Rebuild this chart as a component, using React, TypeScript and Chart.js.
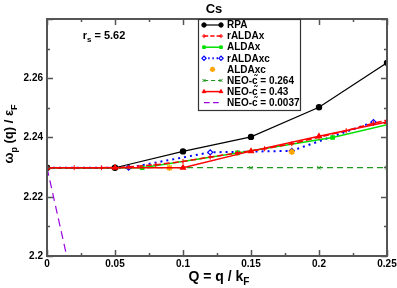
import React, { useEffect, useRef } from "react";
import { Chart, registerables } from "chart.js";
import { drawPoint } from "chart.js/helpers";

Chart.register(...registerables);

const TITLE = "Cs";
const X_TICKS = [0, 0.05, 0.1, 0.15, 0.2, 0.25];
const Y_TICKS = [2.2, 2.22, 2.24, 2.26];

const Q_RPA = [0, 0.05, 0.1, 0.15, 0.2, 0.25];
const V_RPA = [2.2298, 2.2298, 2.2353, 2.2402, 2.2502, 2.2652];

const Q_RALDAX = [0, 0.02, 0.04, 0.06, 0.08, 0.1, 0.12, 0.14, 0.16, 0.18, 0.2, 0.22, 0.24, 0.25];
const V_RALDAX = [2.2298, 2.2298, 2.2298, 2.2301, 2.2308, 2.2319, 2.2334, 2.2348, 2.2362, 2.2379, 2.2401, 2.2423, 2.2448, 2.2458];

const Q_ALDAX = [0, 0.07, 0.14, 0.21, 0.28];
const V_ALDAX = [2.2298, 2.2298, 2.2348, 2.24, 2.2475];

const Q_RALDAXC = [0, 0.06, 0.12, 0.18, 0.24];
const V_RALDAXC = [2.2298, 2.2298, 2.235, 2.2355, 2.2452];

const Q_ALDAXC = [0, 0.09, 0.18];
const V_ALDAXC = [2.2298, 2.2298, 2.2352];

const Q_NEO264 = [0, 0.05, 0.1, 0.15, 0.2, 0.25];
const V_NEO264 = [2.2298, 2.2298, 2.2298, 2.2298, 2.2298, 2.2298];

const Q_NEO43 = [0, 0.05, 0.1, 0.15, 0.2, 0.25];
const V_NEO43 = [2.2298, 2.2298, 2.2298, 2.2354, 2.2404, 2.2452];

const Q_NEO0037 = [0, 0.05];
const V_NEO0037 = [2.2298, 2.127];

const LABELS = [
  "RPA",
  "rALDAx",
  "ALDAx",
  "rALDAxc",
  "ALDAxc",
  "NEO-c\u0303 = 0.264",
  "NEO-c\u0303 = 0.43",
  "NEO-c\u0303 = 0.0037",
];

const pts = (q: number[], v: number[]) => q.map((x, i) => ({ x, y: v[i] }));

const FONT = "'Liberation Sans', Arial, Helvetica, sans-serif";

type Part = [string, boolean];
function drawParts(ctx: CanvasRenderingContext2D, parts: Part[], cx: number, cy: number, size: number) {
  const subSize = Math.round(size * 0.7);
  let total = 0;
  const widths = parts.map(([t, sub]) => {
    ctx.font = `bold ${sub ? subSize : size}px ${FONT}`;
    const w = ctx.measureText(t).width;
    total += w;
    return w;
  });
  let x = cx - total / 2;
  ctx.textAlign = "left";
  ctx.textBaseline = "alphabetic";
  parts.forEach(([t, sub], i) => {
    ctx.font = `bold ${sub ? subSize : size}px ${FONT}`;
    ctx.fillText(t, x, cy + (sub ? size * 0.3 : 0));
    x += widths[i];
  });
}

export default function App() {
  const ref = useRef<HTMLCanvasElement>(null);

  useEffect(() => {
    document.body.style.margin = "0";
    const canvas = ref.current!;

    const datasets: any[] = [
      {
        label: LABELS[0], data: pts(Q_RPA, V_RPA), borderColor: "#000", backgroundColor: "#000",
        borderWidth: 1.2, pointStyle: "circle", pointRadius: 2.6, order: 1,
      },
      {
        label: LABELS[1], data: pts(Q_RALDAX, V_RALDAX), borderColor: "#ff0000", backgroundColor: "#ff0000",
        borderWidth: 1.5, borderDash: [6, 3], pointStyle: "cross", pointRadius: 2.5, pointBorderWidth: 1, order: 3,
      },
      {
        label: LABELS[2], data: pts(Q_ALDAX, V_ALDAX), borderColor: "#00e000", backgroundColor: "#00e000",
        borderWidth: 1.5, pointStyle: "rect", pointRadius: 2.2, order: 4,
      },
      {
        label: LABELS[3], data: pts(Q_RALDAXC, V_RALDAXC), borderColor: "#0000ff", backgroundColor: "#ffffff",
        borderWidth: 2, borderDash: [2, 4], pointStyle: "rectRot", pointRadius: 2.5, pointBorderWidth: 1.2,
        pointBorderColor: "#0000ff", order: 5,
      },
      {
        label: LABELS[4], data: pts(Q_ALDAXC, V_ALDAXC), borderColor: "#ffa500", backgroundColor: "#ffa500",
        showLine: false, pointStyle: "star", pointRadius: 3.2, pointBorderWidth: 1.5, order: 2,
      },
      {
        label: LABELS[5], data: pts(Q_NEO264, V_NEO264), borderColor: "#1f9a1f", backgroundColor: "#1f9a1f",
        borderWidth: 1.2, borderDash: [6, 4], pointStyle: "crossRot", pointRadius: 2.5, pointBorderWidth: 1, order: 6,
      },
      {
        label: LABELS[6], data: pts(Q_NEO43, V_NEO43), borderColor: "#ff0000", backgroundColor: "#ff0000",
        borderWidth: 1.5, pointStyle: "triangle", pointRadius: 2.5, order: 0,
      },
      {
        label: LABELS[7], data: pts(Q_NEO0037, V_NEO0037), borderColor: "#9a00e0", backgroundColor: "#9a00e0",
        borderWidth: 1.2, borderDash: [8, 5], pointRadius: 0, order: 7,
      },
    ];

    const deco = {
      id: "deco",
      afterDatasetsDraw(chart: any) {
        const ctx: CanvasRenderingContext2D = chart.ctx;
        const { left, right, top, bottom } = chart.chartArea;
        const xs = chart.scales.x;
        const ys = chart.scales.y;
        ctx.save();
        // ticks
        ctx.strokeStyle = "#555";
        ctx.lineWidth = 1.5;
        ctx.beginPath();
        for (let v = 0; v <= 0.2501; v += 0.025) {
          const major = Math.abs(v / 0.05 - Math.round(v / 0.05)) < 1e-6;
          const len = major ? 6 : 3;
          const px = Math.round(xs.getPixelForValue(v)) + 0.5;
          ctx.moveTo(px, bottom); ctx.lineTo(px, bottom - len);
          ctx.moveTo(px, top); ctx.lineTo(px, top + len);
        }
        for (let k = 0; k <= 8; k++) {
          const v = 2.2 + k * 0.01;
          const len = k % 2 === 0 ? 6 : 3;
          const py = Math.round(ys.getPixelForValue(v)) + 0.5;
          ctx.moveTo(left, py); ctx.lineTo(left + len, py);
          ctx.moveTo(right, py); ctx.lineTo(right - len, py);
        }
        ctx.stroke();
        // frame
        ctx.lineWidth = 2;
        ctx.strokeStyle = "#555";
        ctx.strokeRect(left, top, right - left, bottom - top);

        // legend box
        const bx = 198, by = top, bw = 102, bh = 91;
        ctx.fillStyle = "#fff";
        ctx.fillRect(bx, by, bw, bh);
        ctx.lineWidth = 1.2;
        ctx.strokeStyle = "#333";
        ctx.strokeRect(bx + 0.5, by + 0.5, bw, bh);
        const x1 = 204, x2 = 221;
        datasets.forEach((ds, i) => {
          const y = 25 + i * 11.1;
          ctx.save();
          if (ds.showLine !== false) {
            ctx.strokeStyle = ds.borderColor;
            ctx.lineWidth = ds.borderWidth || 1;
            ctx.setLineDash(ds.borderDash ? ds.borderDash.map((d: number) => d * 0.7) : []);
            ctx.beginPath();
            ctx.moveTo(x1, y); ctx.lineTo(x2, y);
            ctx.stroke();
          }
          ctx.setLineDash([]);
          if (ds.pointRadius > 0) {
            ctx.strokeStyle = ds.pointBorderColor || ds.borderColor;
            ctx.fillStyle = ds.backgroundColor;
            ctx.lineWidth = ds.pointBorderWidth || 1;
            const r = ds.pointRadius * 0.85;
            const opts = { pointStyle: ds.pointStyle, radius: r, rotation: 0, borderWidth: ds.pointBorderWidth || 1 };
            const xsPts = ds.showLine === false ? [(x1 + x2) / 2] : [x1, x2];
            xsPts.forEach((px) => drawPoint(ctx, opts as any, px, y));
          }
          ctx.restore();
          ctx.fillStyle = "#000";
          ctx.font = `bold 10px ${FONT}`;
          ctx.textAlign = "left";
          ctx.textBaseline = "middle";
          ctx.fillText(ds.label, 227, y + 0.5);
        });
        ctx.restore();
      },
      afterDraw(chart: any) {
        const ctx: CanvasRenderingContext2D = chart.ctx;
        ctx.save();
        ctx.fillStyle = "#000";
        // title
        drawParts(ctx, [[TITLE, false]], 214, 13, 13);
        // annotation
        drawParts(ctx, [["r", false], ["s", true], [" = 5.62", false]], 104, 39, 11);
        // x title
        drawParts(ctx, [["Q = q / k", false], ["F", true]], 219, 281, 14);
        // y title
        ctx.translate(13, 134);
        ctx.rotate(-Math.PI / 2);
        drawParts(ctx, [["\u03C9", false], ["p", true], [" (q) / \u03B5", false], ["F", true]], 0, 0, 13);
        ctx.restore();
      },
    };

    const chart = new Chart(canvas, {
      type: "line",
      data: { datasets },
      options: {
        animation: false,
        responsive: false,
        maintainAspectRatio: false,
        layout: { padding: { top: 19, right: 10, left: 0, bottom: 0 } },
        plugins: { legend: { display: false }, tooltip: { enabled: false }, title: { display: false } },
        scales: {
          x: {
            type: "linear",
            min: 0,
            max: 0.25,
            grid: { display: false, drawTicks: false },
            border: { display: false },
            afterFit: (s: any) => { s.height = 32; s.paddingLeft = 0; s.paddingRight = 0; },
            afterBuildTicks: (s: any) => { s.ticks = X_TICKS.map((v) => ({ value: v })); },
            ticks: {
              padding: 2,
              color: "#000",
              font: { family: FONT, size: 10, weight: "bold" },
              callback: (v: any) => String(Math.round(Number(v) * 1000) / 1000),
            },
          },
          y: {
            type: "linear",
            min: 2.2,
            max: 2.28,
            grid: { display: false, drawTicks: false },
            border: { display: false },
            afterFit: (s: any) => { s.width = 47; s.paddingTop = 0; s.paddingBottom = 0; },
            afterBuildTicks: (s: any) => { s.ticks = Y_TICKS.map((v) => ({ value: v })); },
            ticks: {
              padding: 4,
              color: "#000",
              font: { family: FONT, size: 10, weight: "bold" },
              callback: (v: any) => String(Math.round(Number(v) * 1000) / 1000),
            },
          },
        },
      } as any,
      plugins: [deco],
    });
    return () => chart.destroy();
  }, []);

  return <canvas ref={ref} width={397} height={288} style={{ display: "block", width: 397, height: 288 }} />;
}
